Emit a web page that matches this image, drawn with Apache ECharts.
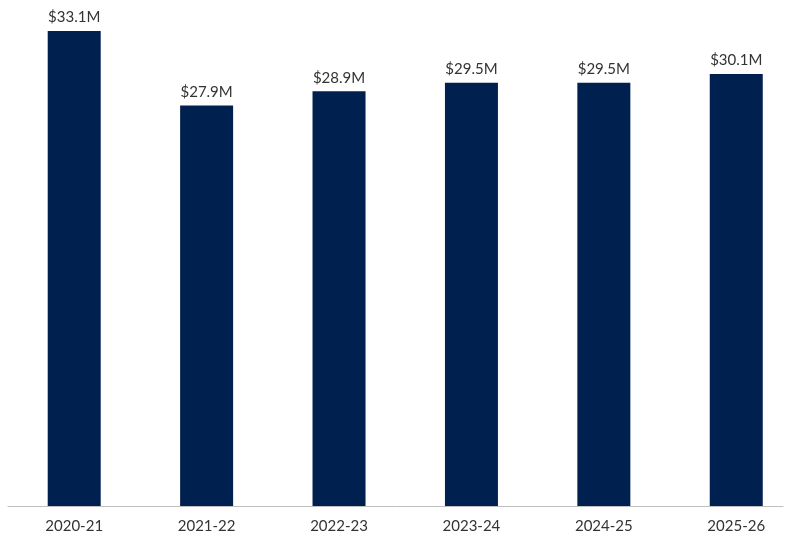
<!DOCTYPE html>
<html>
<head>
<meta charset="utf-8">
<script src="https://cdn.jsdelivr.net/npm/echarts@6/dist/echarts.min.js"></script>
<style>
  html, body { margin: 0; padding: 0; background: #ffffff; }
  #chart { width: 788px; height: 539px; }
</style>
</head>
<body>
<div id="chart"></div>
<script>
// Fiscal years and annual funding (millions of dollars)
const years = ['2020-21', '2021-22', '2022-23', '2023-24', '2024-25', '2025-26'];
const funding = [33.1, 27.9, 28.9, 29.5, 29.5, 30.1];

const FONT = 'Lato, "Open Sans", sans-serif';
const TEXT = '#333333';

// Year slots on a numeric axis; the plot runs a little past the last slot's midpoint
const slots = years.map((_, i) => i);
const points = funding.map((v, i) => [i, v]);

const chart = echarts.init(document.getElementById('chart'), null, { renderer: 'canvas' });

chart.setOption({
  animation: false,
  backgroundColor: '#ffffff',
  grid: { left: 8, right: 5, top: 31, bottom: 33, containLabel: false },
  xAxis: {
    type: 'value',
    min: -0.5,
    max: 5.353,
    splitLine: { show: false },
    axisLine: { show: true, onZero: false, lineStyle: { color: '#bfbfbf', width: 1 } },
    axisTick: { show: false },
    axisLabel: {
      customValues: slots,
      color: TEXT,
      fontFamily: FONT,
      fontSize: 15,
      margin: 13,
      formatter: v => years[Math.round(v)]
    }
  },
  yAxis: { type: 'value', min: 0, max: 33.1, show: false, splitLine: { show: false } },
  series: [
    {
      type: 'bar',
      data: points,
      barWidth: 53,
      itemStyle: { color: '#002050' },
      label: {
        show: true,
        position: 'top',
        distance: 6,
        color: TEXT,
        fontFamily: FONT,
        fontSize: 15,
        formatter: p => '$' + p.value[1].toFixed(1) + 'M'
      }
    }
  ]
});
</script>
</body>
</html>
